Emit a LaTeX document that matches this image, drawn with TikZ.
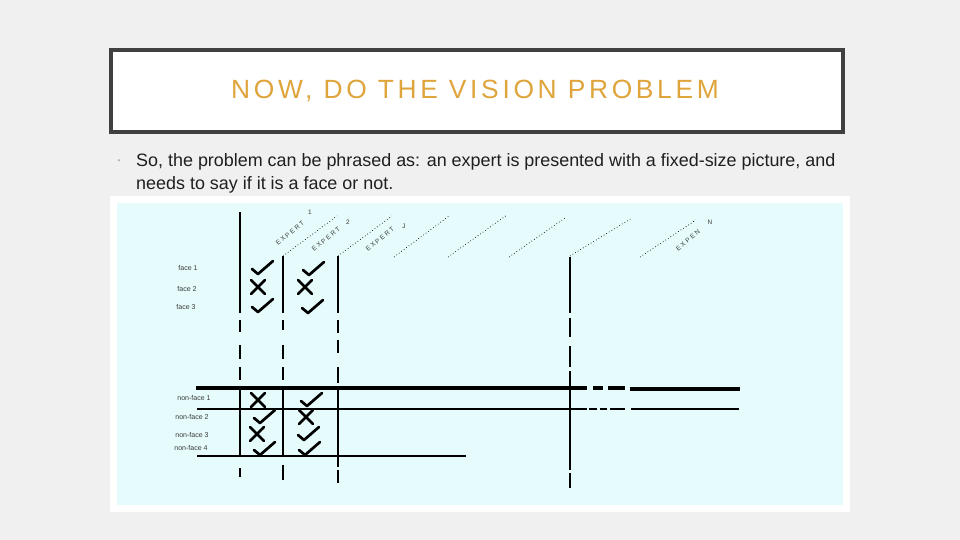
\documentclass[tikz,border=0pt]{standalone}
\usepackage{fontspec}
\setmainfont{Liberation Sans}
\newfontfamily\titlefont[LetterSpace=14]{Liberation Sans}
\usetikzlibrary{positioning}
\definecolor{SlideGray}{HTML}{F0F0F0}
\definecolor{SlideFrame}{HTML}{404040}
\definecolor{SlideGold}{HTML}{DFA53C}
\definecolor{PicCyan}{HTML}{E6FCFC}
\definecolor{LabelInk}{HTML}{3A3A3A}
\tikzset{
  rowlabel/.style={font=\fontsize{6}{7}\selectfont, text=LabelInk, inner sep=0pt},
  explabel/.style={font=\fontsize{5.5}{6}\selectfont, text=LabelInk, inner sep=0pt},
  markline/.style={line width=2.3pt, line cap=round, line join=round},
  sheetedge/.style={line width=0.6pt, dotted},
  pics/chk/.style={code={\draw[markline] (-10,1) -- (-4,6) -- (11,-7);}},
  pics/crs/.style={code={\draw[markline] (-7,-7) -- (7,7) (-7,7) -- (7,-7);}},
}

\begin{document}
\begin{tikzpicture}[x=0.03cm,y=-0.03cm]
  % slide background
  \fill[SlideGray] (0,0) rectangle (960,540);
  \useasboundingbox (0,0) rectangle (960,540);

  % title box
  \draw[line width=3.4pt, SlideFrame, fill=white] (111,50) rectangle (843,132);
  \node[font=\titlefont\fontsize{22.5}{25}\selectfont, text=SlideGold] (title) at (475,91) {NOW, DO THE VISION PROBLEM};

  % bullet text
  \node[text=gray!60, font=\fontsize{7}{8}\selectfont] (dot) at (119,162) {\textbullet};
  \node[anchor=west, inner sep=0pt, font=\fontsize{15.3}{17}\selectfont, text=black!88] (line1) at (136,162) {So, the problem can be phrased as: an expert is presented with a fixed-size picture, and};
  \node[anchor=west, inner sep=0pt, font=\fontsize{15.3}{17}\selectfont, text=black!88] (line2) at (136,185) {needs to say if it is a face or not.};

  % picture area
  \fill[white] (110,196) rectangle (850,512);
  \fill[PicCyan] (117,203) rectangle (843,505);

  % column edges
  \draw[line width=1pt] (240,212) -- (240,313) (240,320) -- (240,332) (240,345) -- (240,359) (240,367) -- (240,380)
    (240,386) -- (240,457) (240,468) -- (240,477);
  \draw[line width=1pt] (283,256) -- (283,313) (283,320) -- (283,330) (283,345) -- (283,359) (283,367) -- (283,380)
    (283,386) -- (283,457) (283,465) -- (283,480);
  \draw[line width=1pt] (338,256) -- (338,313) (338,320) -- (338,333) (338,340) -- (338,353) (338,367) -- (338,383)
    (338,386) -- (338,467) (338,470) -- (338,483);
  \draw[line width=1pt] (570,257) -- (570,313) (570,318) -- (570,337) (570,346) -- (570,367)
    (570,371) -- (570,470) (570,473) -- (570,488);

  % sheet tops
  \draw[sheetedge] (283,256) -- (337,216);
  \draw[sheetedge] (338,256) -- (392,216);
  \draw[sheetedge] (394,257) -- (449,216);
  \draw[sheetedge] (448,257) -- (507,215);
  \draw[sheetedge] (509,257) -- (565,218);
  \draw[sheetedge] (570,256) -- (632,218);
  \draw[sheetedge] (640,257) -- (696,220);

  % expert labels
  \node[explabel, rotate=40] (e1) at (290,233) {E X P E R T};
  \node[explabel] (n1) at (310,212) {1};
  \node[explabel, rotate=40] (e2) at (326,239) {E X P E R T};
  \node[explabel] (n2) at (348,222) {2};
  \node[explabel, rotate=40] (ej) at (380,239) {E X P E R T};
  \node[explabel] (nj) at (404,226) {J};
  \node[explabel, rotate=40] (en) at (688,240) {E X P E N};
  \node[explabel] (nn) at (710,222) {N};

  % rows
  \node[rowlabel] (f1) at (188,268) {face 1};
  \node[rowlabel] (f2) at (187,289) {face 2};
  \node[rowlabel] (f3) at (186,307) {face 3};
  \node[rowlabel] (nf1) at (194,398) {non-face 1};
  \node[rowlabel] (nf2) at (192,417) {non-face 2};
  \node[rowlabel] (nf3) at (192,435) {non-face 3};
  \node[rowlabel] (nf4) at (191,448) {non-face 4};

  % horizontal rules
  \draw[line width=3pt] (196,388) -- (587,388) (593,388) -- (603,388) (608,388) -- (625,388) (630,389) -- (740,389);
  \draw[line width=1pt] (197,409) -- (587,409) (589,409) -- (597,409) (600,409) -- (607,409) (610,409) -- (625,409) (631,409) -- (739,409);
  \draw[line width=1pt] (197,456) -- (466,456);

  % expert 1 answers
  \pic at (262,268) {chk};
  \pic at (258,287) {crs};
  \pic at (262,306) {chk};
  \pic at (258,400) {crs};
  \pic at (264,417) {chk};
  \pic at (257,434) {crs};
  \pic at (264,449) {chk};

  % expert 2 answers
  \pic at (313,269) {chk};
  \pic at (305,287) {crs};
  \pic at (312,307) {chk};
  \pic at (311,400) {chk};
  \pic at (306,417) {crs};
  \pic at (308,434) {chk};
  \pic at (309,449) {chk};
\end{tikzpicture}
\end{document}
